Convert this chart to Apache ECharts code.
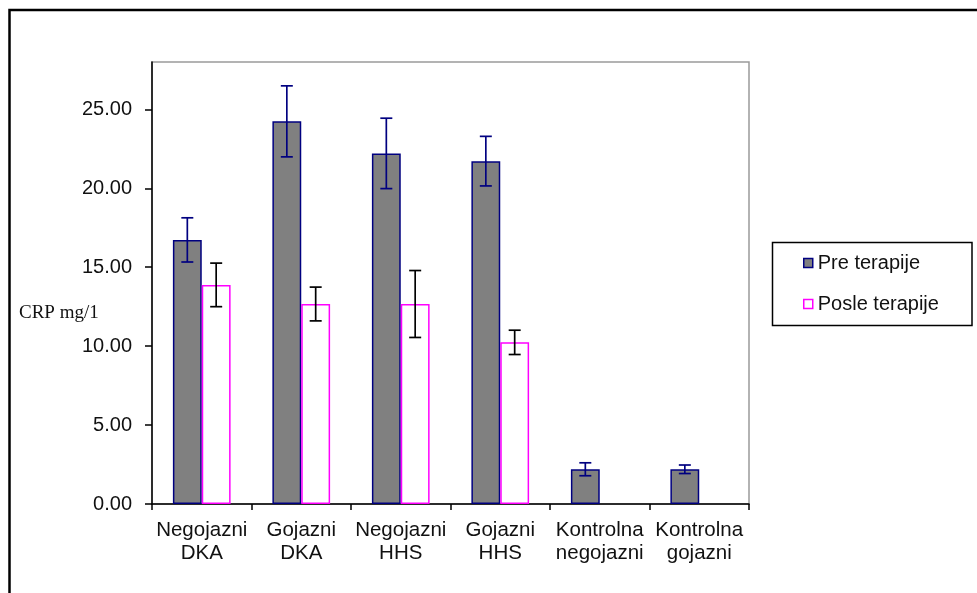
<!DOCTYPE html>
<html>
<head>
<meta charset="utf-8">
<title>CRP mg/l</title>
<script src="https://cdn.jsdelivr.net/npm/echarts@6/dist/echarts.min.js"></script>
<style>
  html, body { margin: 0; padding: 0; background: #fff; }
  #chart { width: 977px; height: 593px; }
</style>
</head>
<body>
<div id="chart"></div>
<script>
// Groups on the category axis
const categories = [
  'Negojazni\nDKA',
  'Gojazni\nDKA',
  'Negojazni\nHHS',
  'Gojazni\nHHS',
  'Kontrolna\nnegojazni',
  'Kontrolna\ngojazni'
];

// Mean CRP before therapy and its error half-width
const preValues = [16.73, 24.24, 22.21, 21.72, 2.20, 2.20];
const preErrors = [1.40, 2.25, 2.23, 1.57, 0.41, 0.27];

// Mean CRP after therapy (control groups have no measurement)
const postValues = [13.88, 12.67, 12.67, 10.24, null, null];
const postErrors = [1.38, 1.07, 2.12, 0.77, null, null];

const seriesNames = ['Pre terapije', 'Posle terapije'];

// Y axis range and tick step
const yMin = 0;
const yMax = 28;
const yStep = 5;

const BAR_FRACTION = 0.29;

function errorData(values, errors) {
  const out = [];
  values.forEach(function (v, i) {
    if (v != null && errors[i] != null) out.push([i, v, errors[i]]);
  });
  return out;
}

function makeErrorRenderer(side, color) {
  return function (params, api) {
    const idx = api.value(0);
    const val = api.value(1);
    const err = api.value(2);
    const band = api.size([1, 0])[0];
    const center = api.coord([idx, val]);
    const x = center[0] + side * band * BAR_FRACTION / 2;
    const yTop = api.coord([idx, val + err])[1];
    const yBot = api.coord([idx, val - err])[1];
    const cap = 6;
    const style = { stroke: color, lineWidth: 1.7, fill: null };
    return {
      type: 'group',
      children: [
        { type: 'line', shape: { x1: x, y1: yTop, x2: x, y2: yBot }, style: style },
        { type: 'line', shape: { x1: x - cap, y1: yTop, x2: x + cap, y2: yTop }, style: style },
        { type: 'line', shape: { x1: x - cap, y1: yBot, x2: x + cap, y2: yBot }, style: style }
      ]
    };
  };
}

const chart = echarts.init(document.getElementById('chart'), null, { renderer: 'canvas' });

const option = {
  backgroundColor: '#ffffff',
  animation: false,
  textStyle: { fontFamily: 'Liberation Sans, Arial, sans-serif' },
  grid: {
    left: 152, right: 228, top: 62, bottom: 89,
    show: true, borderColor: '#9a9a9a', borderWidth: 1.5, backgroundColor: 'transparent'
  },
  legend: {
    orient: 'vertical',
    left: 803,
    top: 253,
    padding: 0,
    itemWidth: 9,
    itemHeight: 9,
    itemGap: 21,
    icon: 'rect',
    textStyle: { fontSize: 20, color: '#111', lineHeight: 20, fontFamily: 'Liberation Sans, Arial, sans-serif' },
    data: [
      { name: seriesNames[0], itemStyle: { color: '#808080', borderColor: '#000080', borderWidth: 1.5 } },
      { name: seriesNames[1], itemStyle: { color: '#ffffff', borderColor: '#ff00ff', borderWidth: 1.5 } }
    ]
  },
  xAxis: {
    type: 'category',
    data: categories,
    boundaryGap: true,
    axisLine: { lineStyle: { color: '#000', width: 1.5 } },
    axisTick: { show: true, length: 6, lineStyle: { color: '#000', width: 1.5 } },
    axisLabel: { fontSize: 20.5, lineHeight: 23, color: '#111', margin: 15, interval: 0 },
    splitLine: { show: false }
  },
  yAxis: {
    type: 'value',
    min: yMin,
    max: yMax,
    interval: yStep,
    axisLine: { show: true, lineStyle: { color: '#000', width: 1.5 } },
    axisTick: { show: true, length: 7, lineStyle: { color: '#000', width: 1.5 } },
    axisLabel: {
      fontSize: 20, color: '#111', margin: 20, showMaxLabel: false,
      formatter: function (v) { return v % yStep === 0 ? v.toFixed(2) : ''; }
    },
    splitLine: { show: false }
  },
  graphic: [
    {
      type: 'polyline',
      shape: { points: [[9.5, 593], [9.5, 10], [977, 10]] },
      style: { stroke: '#000', lineWidth: 2.5, fill: null },
      silent: true
    },
    {
      type: 'rect',
      shape: { x: 772.5, y: 242.5, width: 199.5, height: 83 },
      style: { stroke: '#000', lineWidth: 1.5, fill: null },
      silent: true
    },
    {
      type: 'text',
      left: 19,
      top: 304,
      style: { text: 'CRP mg/1', font: '19px "Liberation Serif", "Times New Roman", serif', fill: '#111' },
      silent: true
    }
  ],
  series: [
    {
      name: seriesNames[0],
      type: 'bar',
      data: preValues,
      barWidth: (BAR_FRACTION * 100) + '%',
      barGap: '0%',
      itemStyle: { color: '#808080', borderColor: '#000080', borderWidth: 1.5 },
      z: 2
    },
    {
      name: seriesNames[1],
      type: 'bar',
      data: postValues,
      barWidth: (BAR_FRACTION * 100) + '%',
      barGap: '0%',
      itemStyle: { color: '#ffffff', borderColor: '#ff00ff', borderWidth: 1.5 },
      z: 2
    },
    {
      name: 'err-pre',
      type: 'custom',
      renderItem: makeErrorRenderer(-1, '#000080'),
      data: errorData(preValues, preErrors),
      encode: { x: 0, y: 1 },
      z: 5,
      silent: true
    },
    {
      name: 'err-post',
      type: 'custom',
      renderItem: makeErrorRenderer(1, '#000000'),
      data: errorData(postValues, postErrors),
      encode: { x: 0, y: 1 },
      z: 5,
      silent: true
    }
  ]
};

chart.setOption(option);
</script>
</body>
</html>
